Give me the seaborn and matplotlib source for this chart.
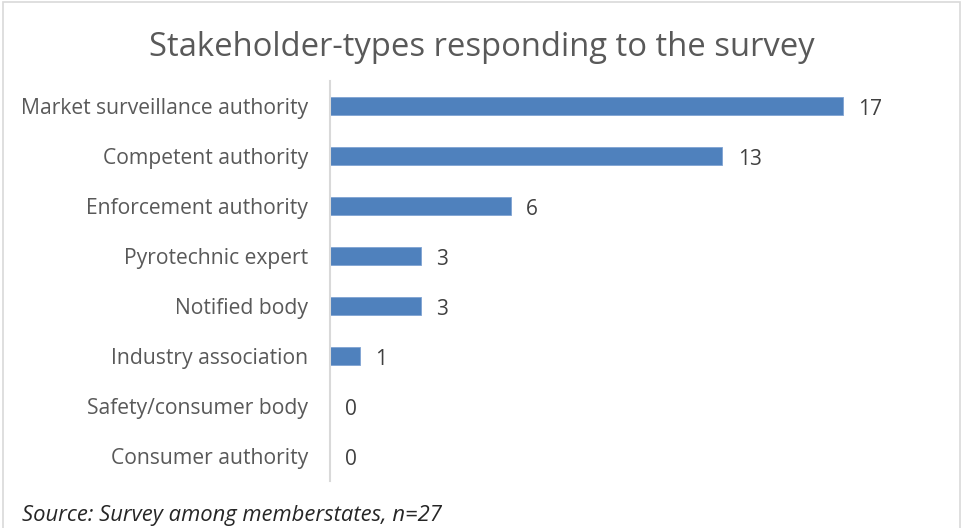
import matplotlib
matplotlib.use("Agg")
import matplotlib.pyplot as plt
import seaborn as sns
import pandas as pd
from matplotlib.patches import Rectangle

categories = [
    "Market surveillance authority",
    "Competent authority",
    "Enforcement authority",
    "Pyrotechnic expert",
    "Notified body",
    "Industry association",
    "Safety/consumer body",
    "Consumer authority",
]
counts = [17, 13, 6, 3, 3, 1, 0, 0]

title = "Stakeholder-types responding to the survey"
source = "Source: Survey among memberstates, n=27"

sns.set_theme(style="white")
plt.rcParams["font.family"] = ["Open Sans", "DejaVu Sans"]

TEXT = "#595959"
BAR = "#4F81BD"
GRID = "#D9D9D9"

W, H = 963, 528
fig = plt.figure(figsize=(W / 100, H / 100), dpi=100)

# chart frame
fig.patches.append(Rectangle((3 / W, -0.05), 957 / W, 1.05 - 2 / H,
                             transform=fig.transFigure, fill=False,
                             edgecolor=GRID, linewidth=1.2))

ax = fig.add_axes([330 / W, 1 - 481 / H, 603.6 / W, 400 / H])
df = pd.DataFrame({"category": categories, "count": counts})
sns.barplot(data=df, y="category", x="count", orient="h", color=BAR,
            width=0.37, saturation=1, ax=ax, edgecolor="#7FA3D3", linewidth=0.6)

ax.set_xlim(0, 20)
ax.set_ylim(len(categories) - 0.5, -0.5)
ax.set_xlabel("")
ax.set_ylabel("")
ax.set_xticks([])
for s in ["top", "right", "bottom"]:
    ax.spines[s].set_visible(False)
ax.spines["left"].set_color(GRID)
ax.spines["left"].set_linewidth(1.5)
ax.tick_params(axis="y", length=0, pad=16, labelsize=15.2, labelcolor=TEXT)

for i, v in enumerate(counts):
    ax.annotate(str(v), xy=(v, i), xytext=(11, -2.5), textcoords="offset points",
                ha="left", va="center", fontsize=15, color="#404040")

fig.text(0.5, 1 - 48 / H, title, ha="center", va="center", fontsize=23.6, color=TEXT)
fig.text(22 / W, 1 - 516 / H, source, ha="left", va="center", fontsize=15.8,
         style="italic", color="#262626")

fig.savefig("out.png", dpi=100)
